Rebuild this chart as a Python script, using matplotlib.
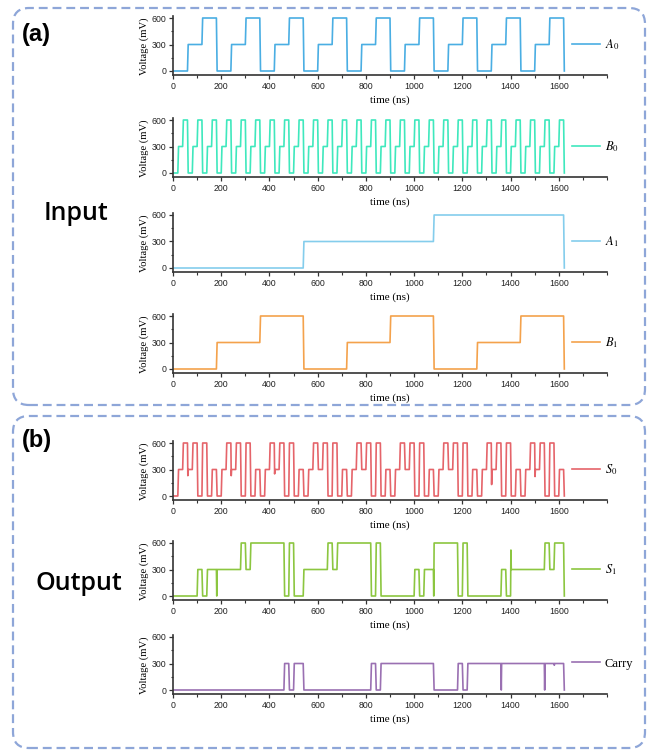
import matplotlib
matplotlib.use("Agg")
import matplotlib.pyplot as plt
from matplotlib.patches import FancyBboxPatch
from matplotlib.ticker import MultipleLocator

plt.rcParams['mathtext.fontset'] = 'stix'

# each character is one 20 ns input slot: 0 -> 0 mV, 1 -> 300 mV, 2 -> 600 mV
slot_ns = 20
level_mv = [0, 300, 600]

A0 = "000111222 000111222 000111222 000111222 000111222 000111222 000111222 000111222 000111222"
B0 = "012012012 012012012 012012012 012012012 012012012 012012012 012012012 012012012 012012012"
A1 = "000000000 000000000 000000000 111111111 111111111 111111111 222222222 222222222 222222222"
B1 = "000000000 111111111 222222222 000000000 111111111 222222222 000000000 111111111 222222222"
S0 = "012120201 012120201 012120201 012120201 012120201 012120201 012120201 012120201 012120201"
S1 = "000001011 111112122 222220200 111112122 222220200 000001011 222220200 000001011 111112122"
Carry = "000000000 000000000 000001011 000000000 000001011 111111111 000001011 111111111 111111111"

# switching glitches seen in the traces: (time ns, mV)
S0_glitch = [(60, 230), (240, 230), (420, 250), (1320, 130), (1500, 220)]
S1_glitch = [(180, 0), (1080, 0), (1400, 520)]
Carry_glitch = [(1360, 0), (1540, 0), (1580, 280)]

names = ["$A_0$", "$B_0$", "$A_1$", "$B_1$", "$S_0$", "$S_1$", "Carry"]
codes = [A0, B0, A1, B1, S0, S1, Carry]
glitches = [[], [], [], [], S0_glitch, S1_glitch, Carry_glitch]
colors = ["#4aaee3", "#3fe8bd", "#84cdec", "#f4a24c", "#e5646a", "#8cc640", "#9a70b2"]

# pixel row of the 600 mV line for each panel
top_px = [18, 120, 215, 316, 443, 543, 637]


def wave(code, glitch, edge=3):
    v = [level_mv[int(c)] for c in code.replace(" ", "")]
    g = dict(glitch)
    t, y = [0], [v[0]]
    for k in range(1, len(v)):
        tk = k * slot_ns
        t.append(tk); y.append(v[k - 1])
        if tk in g:
            t.append(tk + edge / 2); y.append(g[tk])
        t.append(tk + edge); y.append(v[k])
    tend = len(v) * slot_ns
    t += [tend, tend + edge]
    y += [v[-1], 0]
    return t, y


W, H = 657, 756
fig = plt.figure(figsize=(W / 100, H / 100), dpi=100)

# dashed rounded frames
for y0, y1 in [(8, 405), (416, 748)]:
    box = FancyBboxPatch((13 / 100, (H - y1) / 100), 632 / 100, (y1 - y0) / 100,
                         boxstyle="round,pad=0,rounding_size=0.16",
                         transform=fig.dpi_scale_trans, fill=False,
                         edgecolor="#8ea6d8", lw=1.6, linestyle=(0, (4, 2.2)))
    fig.patches.append(box)

fig.text(22 / W, 1 - 35 / H, "(a)", fontsize=17, fontweight="bold",
         family="Liberation Sans", va="center")
fig.text(22 / W, 1 - 440 / H, "(b)", fontsize=17, fontweight="bold",
         family="Liberation Sans", va="center")
fig.text(76 / W, 1 - 213 / H, "Input", fontsize=18, fontweight=600,
         family="Open Sans", ha="center", va="center")
fig.text(79 / W, 1 - 583 / H, "Output", fontsize=18, fontweight=600,
         family="Open Sans", ha="center", va="center")

ylo, yhi = -50, 620
px_per_mv = 53 / 600
left, right = 173, 607

for name, code, gl, col, tp in zip(names, codes, glitches, colors, top_px):
    top = tp - (yhi - 600) * px_per_mv
    hgt = (yhi - ylo) * px_per_mv
    ax = fig.add_axes([left / W, 1 - (top + hgt) / H, (right - left) / W, hgt / H])
    t, y = wave(code, gl)
    ax.plot(t, y, color=col, lw=1.2, label=name)
    ax.set_xlim(0, 1800)
    ax.set_ylim(ylo, yhi)
    ax.set_xticks(range(0, 1601, 200))
    ax.xaxis.set_minor_locator(MultipleLocator(100))
    ax.set_yticks([0, 300, 600])
    ax.yaxis.set_minor_locator(MultipleLocator(150))
    for s in ["top", "right"]:
        ax.spines[s].set_visible(False)
    for s in ["left", "bottom"]:
        ax.spines[s].set_linewidth(1.2)
        ax.spines[s].set_color("#333333")
    ax.tick_params(which="major", length=3, width=0.9, color="#333333",
                   labelsize=6.3, pad=1.5, labelcolor="#222222")
    ax.tick_params(which="minor", length=1.8, width=0.8, color="#333333")
    for lab in ax.get_xticklabels() + ax.get_yticklabels():
        lab.set_family("Liberation Sans")
    ax.set_xlabel("time (ns)", family="Liberation Serif", fontsize=8, labelpad=3.5)
    ax.set_ylabel("Voltage (mV)", family="Liberation Serif", fontsize=7.6, labelpad=2.5)
    leg = ax.legend(loc="center left", bbox_to_anchor=(0.92, 0.52), frameon=False,
                    borderpad=0, borderaxespad=0, handlelength=2.2, handletextpad=0.4,
                    prop={"family": "Liberation Serif", "size": 9})

fig.savefig("out.png", dpi=100)
